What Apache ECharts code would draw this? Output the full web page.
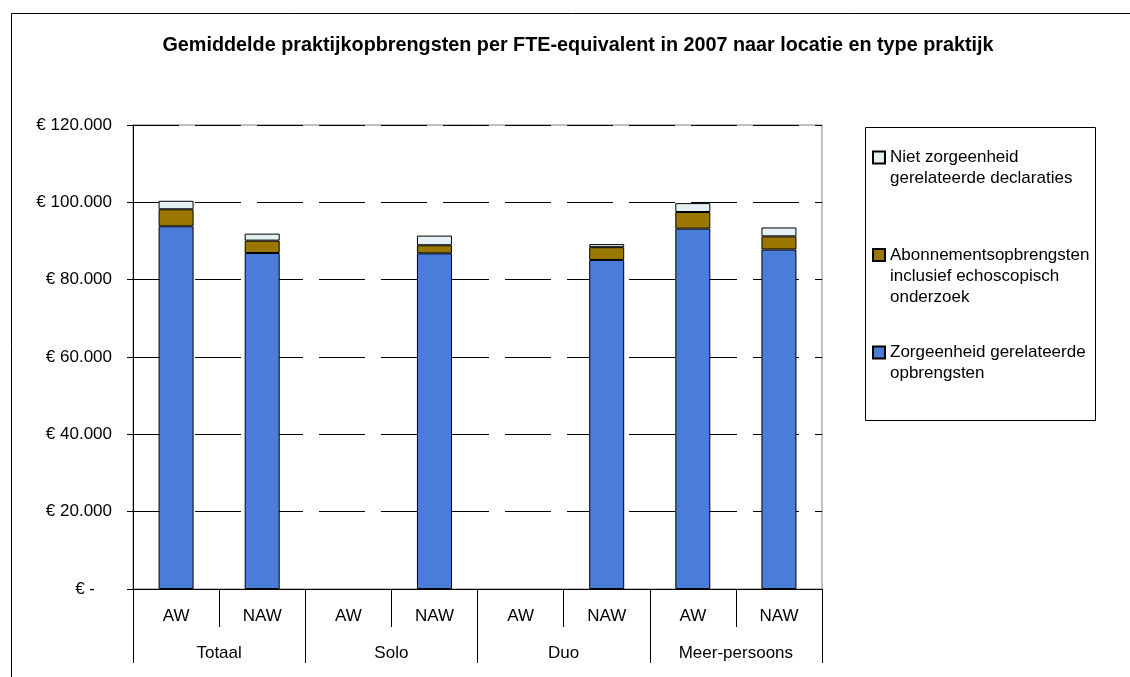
<!DOCTYPE html>
<html>
<head>
<meta charset="utf-8">
<title>Gemiddelde praktijkopbrengsten per FTE-equivalent in 2007</title>
<script src="https://cdn.jsdelivr.net/npm/echarts@6/dist/echarts.min.js"></script>
<style>
  html, body { margin: 0; padding: 0; background: #fff; }
  #chart { width: 1130px; height: 677px; }
</style>
</head>
<body>
<div id="chart"></div>
<script>
// Practice type (AW / NAW) within each location group
const categories = ['AW', 'NAW', 'AW', 'NAW', 'AW', 'NAW', 'AW', 'NAW'];
const groups = ['Totaal', 'Solo', 'Duo', 'Meer-persoons'];

// Revenue per FTE-equivalent (euro), stacked bottom to top
const zorgeenheid = [93800, 86900, null, 86800, null, 85100, 93200, 87800];
const abonnement = [4400, 3200, null, 2100, null, 3300, 4300, 3400];
const nietZorgeenheid = [2200, 1800, null, 2500, null, 800, 2300, 2300];

// Value axis ticks
const yTicks = [0, 20000, 40000, 60000, 80000, 100000, 120000];

const seriesNames = {
  zorg: 'Zorgeenheid gerelateerde opbrengsten',
  abon: 'Abonnementsopbrengsten inclusief echoscopisch onderzoek',
  niet: 'Niet zorgeenheid gerelateerde declaraties'
};

// Legend text: extra blank lines above keep the swatch level with the first line
const legendText = {};
legendText[seriesNames.niet] = '\nNiet zorgeenheid\ngerelateerde declaraties';
legendText[seriesNames.abon] = '\n\nAbonnementsopbrengsten\ninclusief echoscopisch\nonderzoek';
legendText[seriesNames.zorg] = '\nZorgeenheid gerelateerde\nopbrengsten';

const FONT = '"Liberation Sans", Arial, sans-serif';

function euro(v) {
  if (v === 0) return '{z|€ -}';
  return '€ ' + String(v).replace(/\B(?=(\d{3})+(?!\d))/g, '.');
}

const chart = echarts.init(document.getElementById('chart'), null, { renderer: 'canvas' });

const barStyle = (color) => ({ color: color, borderColor: '#000', borderWidth: 1 });

chart.setOption({
  backgroundColor: '#fff',
  animation: false,
  textStyle: { fontFamily: FONT },
  title: {
    text: 'Gemiddelde praktijkopbrengsten per FTE-equivalent in 2007 naar locatie en type praktijk',
    left: 578,
    top: 36,
    padding: 0,
    textAlign: 'center',
    textStyle: { fontFamily: FONT, fontSize: 19.8, fontWeight: 'bold', color: '#000' }
  },
  graphic: [
    { type: 'rect', shape: { x: 11.5, y: 13.5, width: 2000, height: 2000 },
      style: { fill: 'none', stroke: '#000', lineWidth: 1 }, silent: true, z: -1 },
    { type: 'rect', shape: { x: 865.5, y: 127.5, width: 230, height: 293 },
      style: { fill: 'none', stroke: '#000', lineWidth: 1 }, silent: true }
  ],
  legend: {
    orient: 'vertical',
    left: 872,
    top: 126,
    padding: 0,
    itemGap: 13.5,
    itemWidth: 12,
    itemHeight: 12,
    icon: 'rect',
    selectedMode: false,
    data: [seriesNames.niet, seriesNames.abon, seriesNames.zorg],
    formatter: (name) => legendText[name],
    textStyle: { fontFamily: FONT, fontSize: 17, lineHeight: 21, color: '#000' }
  },
  grid: {
    left: 133,
    right: 308,
    top: 125,
    bottom: 88,
    show: true,
    borderColor: '#808080',
    borderWidth: 1,
    backgroundColor: '#fff'
  },
  xAxis: [
    {
      type: 'category',
      data: categories,
      position: 'bottom',
      axisLine: { show: true, lineStyle: { color: '#000', width: 1 } },
      axisTick: { show: true, interval: 0, length: 38, lineStyle: { color: '#000' } },
      axisLabel: { interval: 0, margin: 19, fontFamily: FONT, fontSize: 17, color: '#000' },
      splitLine: { show: false }
    },
    {
      type: 'category',
      data: groups,
      position: 'bottom',
      offset: 0,
      axisLine: { show: false },
      axisTick: { show: true, interval: 0, length: 74, lineStyle: { color: '#000' } },
      axisLabel: { interval: 0, margin: 55.5, fontFamily: FONT, fontSize: 17, color: '#000' },
      splitLine: { show: false }
    }
  ],
  yAxis: {
    type: 'value',
    min: yTicks[0],
    max: yTicks[yTicks.length - 1],
    interval: yTicks[1] - yTicks[0],
    axisLine: { show: true, lineStyle: { color: '#000', width: 1 } },
    axisTick: { show: true, inside: false, length: 6, lineStyle: { color: '#000' } },
    axisLabel: {
      margin: 21,
      formatter: euro,
      fontFamily: FONT,
      fontSize: 17,
      color: '#000',
      rich: { z: { fontFamily: FONT, fontSize: 17, color: '#000', padding: [0, 17, 0, 0] } }
    },
    splitLine: { show: true, lineStyle: { color: '#000', width: 1, type: [46, 16] } }
  },
  series: [
    { name: seriesNames.zorg, type: 'bar', stack: 'total', xAxisIndex: 0, barWidth: 35,
      data: zorgeenheid, itemStyle: barStyle('#4a7dd9') },
    { name: seriesNames.abon, type: 'bar', stack: 'total', xAxisIndex: 0, barWidth: 35,
      data: abonnement, itemStyle: barStyle('#9a7800') },
    { name: seriesNames.niet, type: 'bar', stack: 'total', xAxisIndex: 0, barWidth: 35,
      data: nietZorgeenheid, itemStyle: barStyle('#e3f1f3') }
  ]
});
</script>
</body>
</html>
